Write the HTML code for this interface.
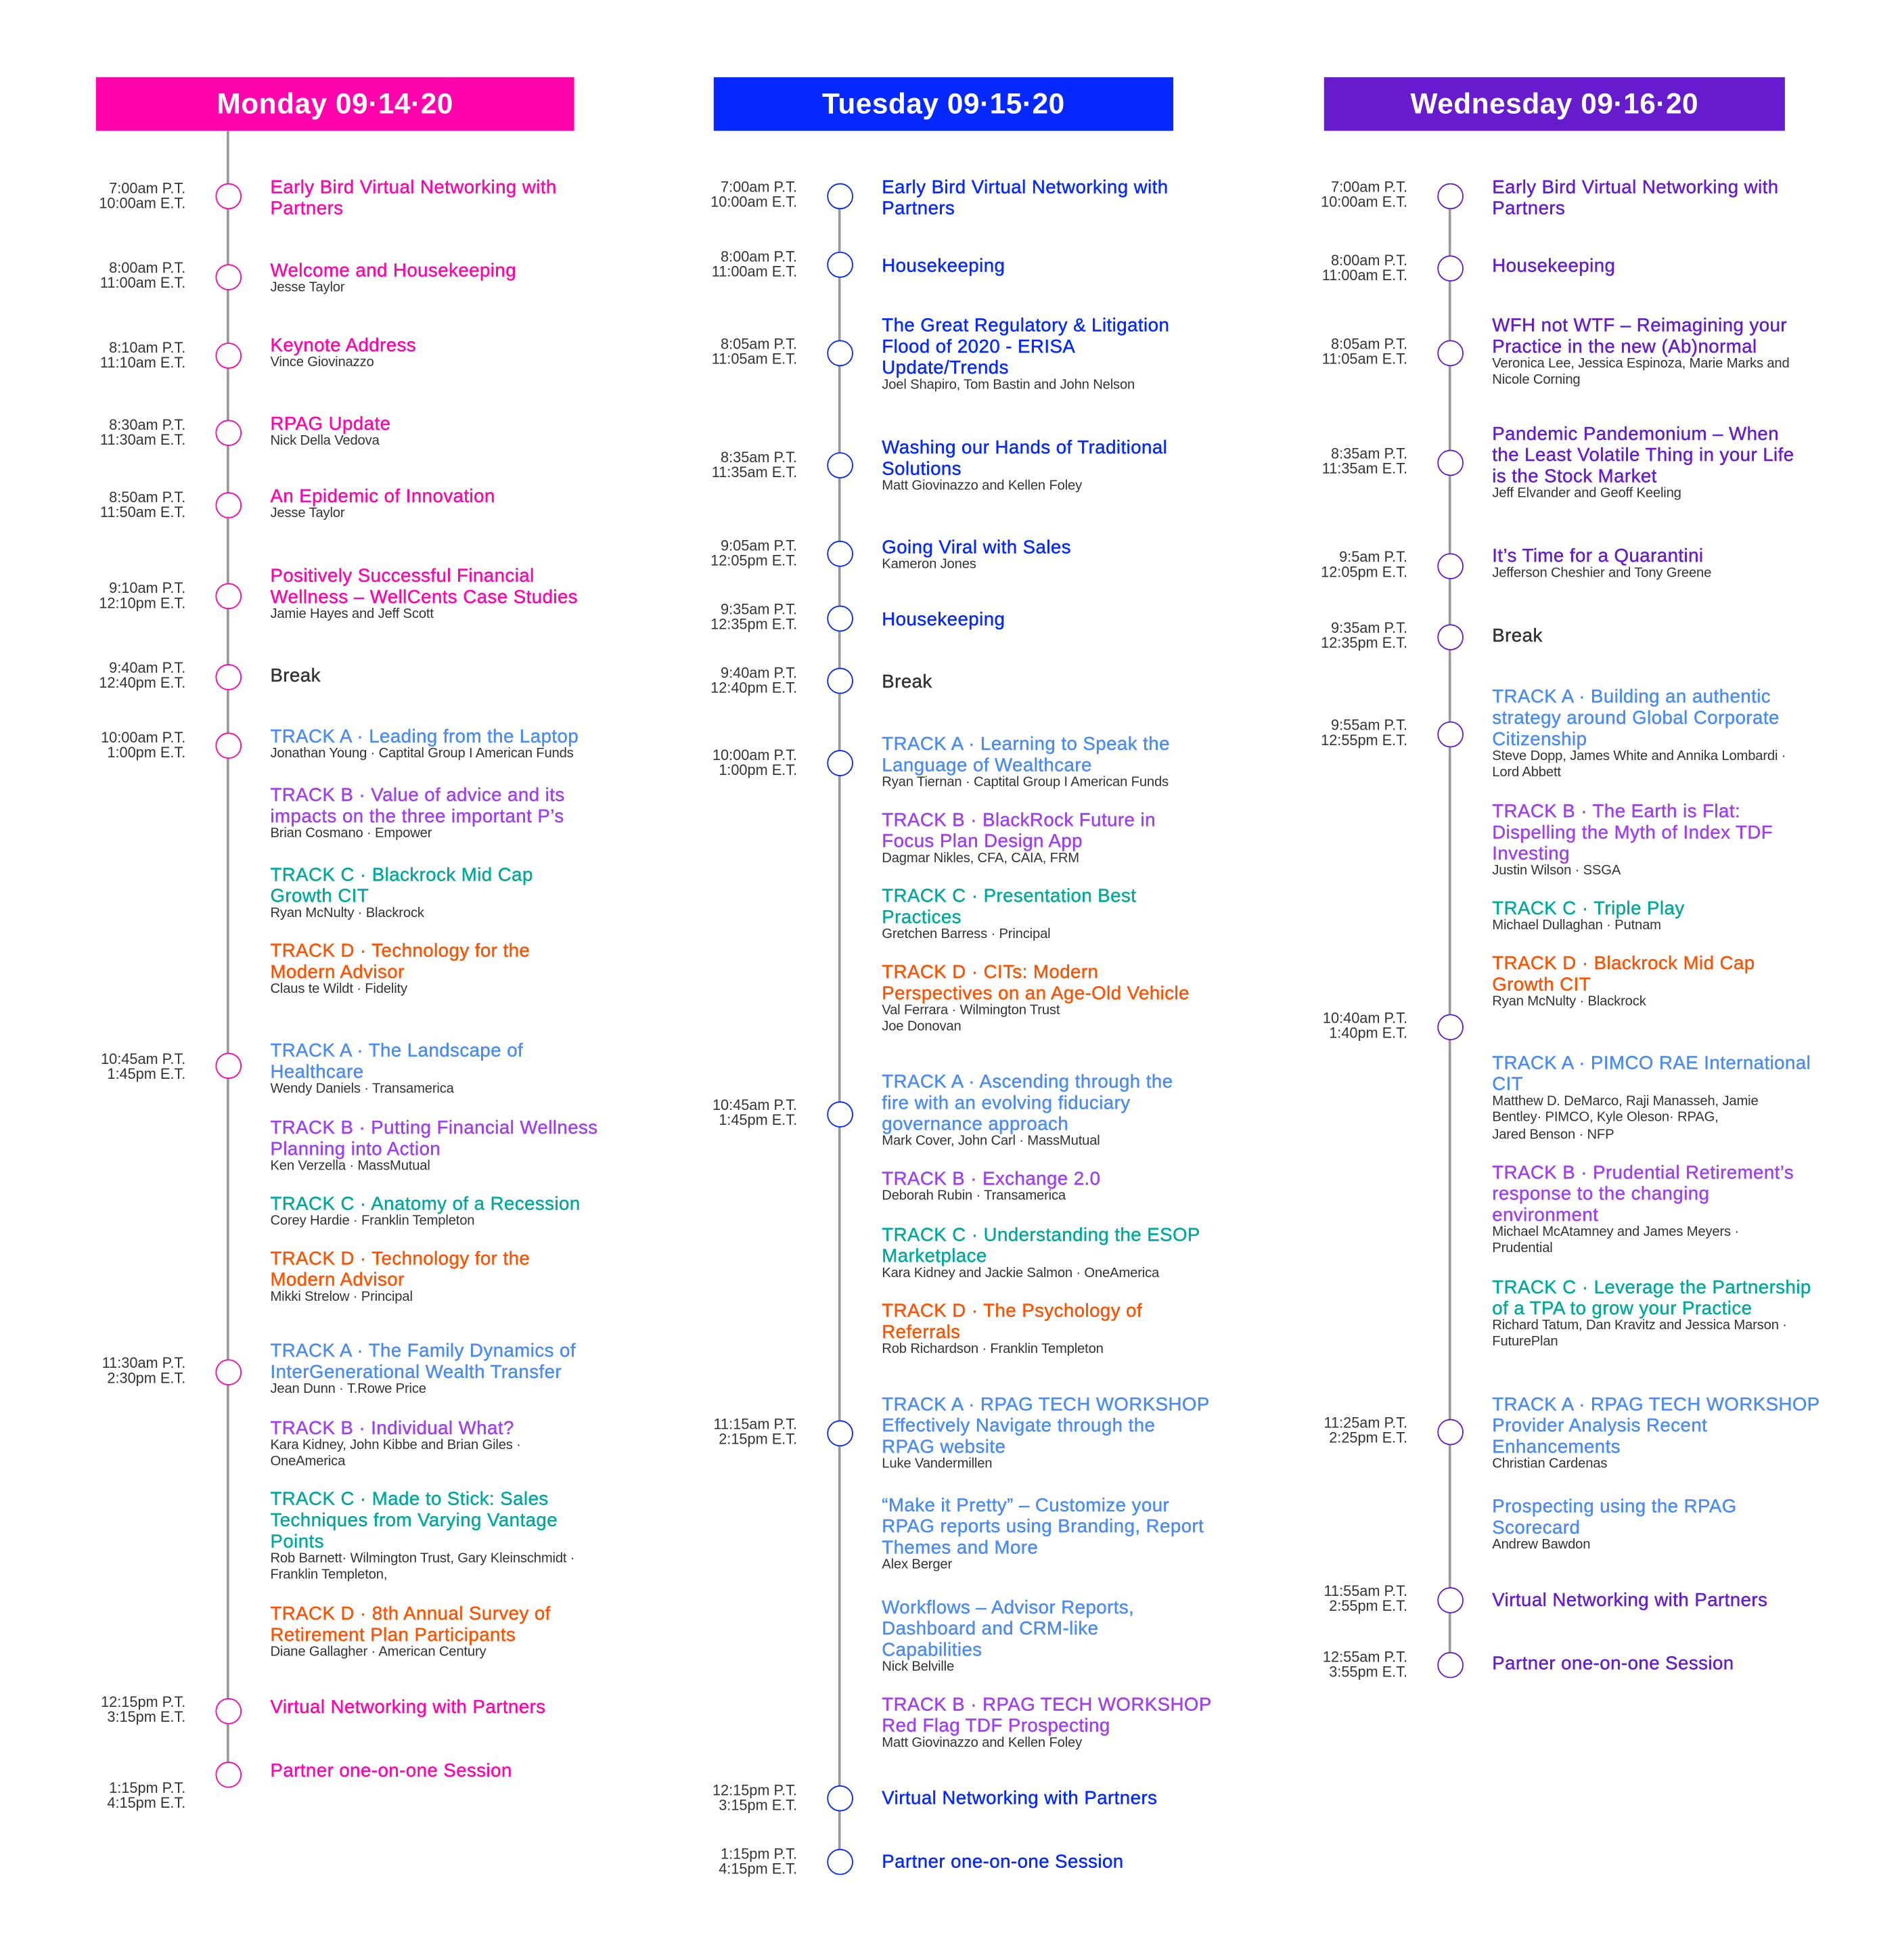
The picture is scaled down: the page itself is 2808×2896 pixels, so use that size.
<!DOCTYPE html>
<html><head><meta charset="utf-8"><style>
html,body{margin:0;padding:0;background:#fff;}
body{width:2808px;height:2887px;overflow:hidden;position:relative;}
#stage{position:absolute;left:0;top:0;width:1530px;height:1573px;transform:scale(1.8408);transform-origin:0 0;font-family:"Liberation Sans",sans-serif;}
.hdr{position:absolute;top:62px;height:43px;color:#fff;font-weight:bold;font-size:23px;letter-spacing:0.3px;text-align:center;line-height:43px;}
.line{position:absolute;width:1.5px;background:#999;}
.circ{position:absolute;width:21px;height:21px;border-radius:50%;border:1.6px solid;background:#fff;box-sizing:border-box;}
.time{position:absolute;font-size:11.8px;line-height:12.5px;color:#333;text-align:right;width:110px;}
.ttl{position:absolute;font-size:15px;line-height:17px;letter-spacing:0.25px;white-space:nowrap;-webkit-text-stroke:0.25px currentColor;}
.sub{position:absolute;font-size:11px;line-height:13.8px;color:#333;white-space:nowrap;letter-spacing:-0.1px;}
</style></head><body>
<div id="stage"></div>
<script>
const dayNames=["Monday 09·14·20","Tuesday 09·15·20","Wednesday 09·16·20"];
const dayColors=["#ff04ad","#0428ff","#661cce"];
const hdrX=[[77,461],[573,942],[1063,1433]];
const axisX=[183,674,1164];
const lineTop=[105,157,157];
const trackCol={A:"#4b8cf3",B:"#a03ff0",C:"#00a89d",D:"#ff5200",K:"#333"};
// events: [circleY, timeY, pt, et, blocks]; block: [color key, titleY, title lines, sub lines]
const monday=[
[157,151,"7:00am P.T.","10:00am E.T.",[["M",150,["Early Bird Virtual Networking with","Partners"],[]]]],
[222,215,"8:00am P.T.","11:00am E.T.",[["M",217,["Welcome and Housekeeping"],["Jesse Taylor"]]]],
[285,279,"8:10am P.T.","11:10am E.T.",[["M",277,["Keynote Address"],["Vince Giovinazzo"]]]],
[347,341,"8:30am P.T.","11:30am E.T.",[["M",340,["RPAG Update"],["Nick Della Vedova"]]]],
[405,399,"8:50am P.T.","11:50am E.T.",[["M",398,["An Epidemic of Innovation"],["Jesse Taylor"]]]],
[478,472,"9:10am P.T.","12:10pm E.T.",[["M",462,["Positively Successful Financial","Wellness – WellCents Case Studies"],["Jamie Hayes and Jeff Scott"]]]],
[543,536,"9:40am P.T.","12:40pm E.T.",[["K",542,["Break"],[]]]],
[598,592,"10:00am P.T.","1:00pm E.T.",[["A",591,["TRACK A · Leading from the Laptop"],["Jonathan Young · Captital Group I American Funds"]],["B",638,["TRACK B · Value of advice and its","impacts on the three important P’s"],["Brian Cosmano · Empower"]],["C",702,["TRACK C · Blackrock Mid Cap","Growth CIT"],["Ryan McNulty · Blackrock"]],["D",763,["TRACK D · Technology for the","Modern Advisor"],["Claus te Wildt · Fidelity"]]]],
[855,850,"10:45am P.T.","1:45pm E.T.",[["A",843,["TRACK A · The Landscape of","Healthcare"],["Wendy Daniels · Transamerica"]],["B",905,["TRACK B · Putting Financial Wellness","Planning into Action"],["Ken Verzella · MassMutual"]],["C",966,["TRACK C · Anatomy of a Recession"],["Corey Hardie · Franklin Templeton"]],["D",1010,["TRACK D · Technology for the","Modern Advisor"],["Mikki Strelow · Principal"]]]],
[1101,1094,"11:30am P.T.","2:30pm E.T.",[["A",1084,["TRACK A · The Family Dynamics of","InterGenerational Wealth Transfer"],["Jean Dunn · T.Rowe Price"]],["B",1146,["TRACK B · Individual What?"],["Kara Kidney, John Kibbe and Brian Giles  ·","OneAmerica"]],["C",1203,["TRACK C · Made to Stick: Sales","Techniques from Varying Vantage","Points"],["Rob Barnett· Wilmington Trust, Gary Kleinschmidt ·","Franklin Templeton,"]],["D",1295,["TRACK D · 8th Annual Survey of","Retirement Plan Participants"],["Diane Gallagher · American Century"]]]],
[1373,1366,"12:15pm P.T.","3:15pm E.T.",[["M",1370,["Virtual Networking with Partners"],[]]]],
[1424,1435,"1:15pm P.T.","4:15pm E.T.",[["M",1421,["Partner one-on-one Session"],[]]]]
];
const tuesday=[
[157,150,"7:00am P.T.","10:00am E.T.",[["M",150,["Early Bird Virtual Networking with","Partners"],[]]]],
[212,206,"8:00am P.T.","11:00am E.T.",[["M",213,["Housekeeping"],[]]]],
[283,276,"8:05am P.T.","11:05am E.T.",[["M",261,["The Great Regulatory & Litigation","Flood of 2020 - ERISA","Update/Trends"],["Joel Shapiro, Tom Bastin and John Nelson"]]]],
[373,367,"8:35am P.T.","11:35am E.T.",[["M",359,["Washing our Hands of Traditional","Solutions"],["Matt Giovinazzo and Kellen Foley"]]]],
[444,438,"9:05am P.T.","12:05pm E.T.",[["M",439,["Going Viral with Sales"],["Kameron Jones"]]]],
[496,489,"9:35am P.T.","12:35pm E.T.",[["M",497,["Housekeeping"],[]]]],
[546,540,"9:40am P.T.","12:40pm E.T.",[["K",547,["Break"],[]]]],
[612,606,"10:00am P.T.","1:00pm E.T.",[["A",597,["TRACK A · Learning to Speak the","Language of Wealthcare"],["Ryan Tiernan · Captital Group I American Funds"]],["B",658,["TRACK B · BlackRock Future in","Focus Plan Design App"],["Dagmar Nikles, CFA, CAIA, FRM"]],["C",719,["TRACK C · Presentation Best","Practices"],["Gretchen Barress · Principal"]],["D",780,["TRACK D · CITs: Modern","Perspectives on an Age-Old Vehicle"],["Val Ferrara · Wilmington Trust","Joe Donovan"]]]],
[894,887,"10:45am P.T.","1:45pm E.T.",[["A",868,["TRACK A · Ascending through the","fire with an evolving fiduciary","governance approach"],["Mark Cover, John Carl · MassMutual"]],["B",946,["TRACK B · Exchange 2.0"],["Deborah Rubin · Transamerica"]],["C",991,["TRACK C · Understanding the ESOP","Marketplace"],["Kara Kidney and Jackie Salmon · OneAmerica"]],["D",1052,["TRACK D · The Psychology of","Referrals"],["Rob Richardson · Franklin Templeton"]]]],
[1150,1143,"11:15am P.T.","2:15pm E.T.",[["A",1127,["TRACK A · RPAG TECH WORKSHOP","Effectively Navigate through the","RPAG website"],["Luke Vandermillen"]],["A",1208,["“Make it Pretty” – Customize your","RPAG reports using Branding, Report","Themes and More"],["Alex Berger"]],["A",1290,["Workflows – Advisor Reports,","Dashboard and CRM-like","Capabilities"],["Nick Belville"]],["B",1368,["TRACK B · RPAG TECH WORKSHOP","Red Flag TDF Prospecting"],["Matt Giovinazzo and Kellen Foley"]]]],
[1443,1437,"12:15pm P.T.","3:15pm E.T.",[["M",1443,["Virtual Networking with Partners"],[]]]],
[1494,1488,"1:15pm P.T.","4:15pm E.T.",[["M",1494,["Partner one-on-one Session"],[]]]]
];
const wednesday=[
[157,150,"7:00am P.T.","10:00am E.T.",[["M",150,["Early Bird Virtual Networking with","Partners"],[]]]],
[215,209,"8:00am P.T.","11:00am E.T.",[["M",213,["Housekeeping"],[]]]],
[283,276,"8:05am P.T.","11:05am E.T.",[["M",261,["WFH not WTF – Reimagining your","Practice in the new (Ab)normal"],["Veronica Lee, Jessica Espinoza, Marie Marks and","Nicole Corning"]]]],
[371,364,"8:35am P.T.","11:35am E.T.",[["M",348,["Pandemic Pandemonium – When","the Least Volatile Thing in your Life","is the Stock Market"],["Jeff Elvander and Geoff Keeling"]]]],
[454,447,"9:5am P.T.","12:05pm E.T.",[["M",446,["It’s Time for a Quarantini"],["Jefferson Cheshier and Tony Greene"]]]],
[511,504,"9:35am P.T.","12:35pm E.T.",[["K",510,["Break"],[]]]],
[589,582,"9:55am P.T.","12:55pm E.T.",[["A",559,["TRACK A ·  Building an authentic","strategy around Global Corporate","Citizenship"],["Steve Dopp, James White and Annika Lombardi ·","Lord Abbett"]],["B",651,["TRACK B · The Earth is Flat:","Dispelling the Myth of Index TDF","Investing"],["Justin Wilson · SSGA"]],["C",729,["TRACK C · Triple Play"],["Michael Dullaghan · Putnam"]],["D",773,["TRACK D · Blackrock Mid Cap","Growth CIT"],["Ryan McNulty · Blackrock"]]]],
[824,817,"10:40am P.T.","1:40pm E.T.",[["A",853,["TRACK A · PIMCO RAE International","CIT"],["Matthew D. DeMarco, Raji Manasseh, Jamie","Bentley· PIMCO, Kyle Oleson· RPAG,","Jared Benson · NFP"]],["B",941,["TRACK B · Prudential Retirement’s","response to the changing","environment"],["Michael McAtamney and James Meyers ·","Prudential"]],["C",1033,["TRACK C · Leverage the Partnership","of a TPA to grow your Practice"],["Richard Tatum, Dan Kravitz and Jessica Marson ·","FuturePlan"]]]],
[1149,1142,"11:25am P.T.","2:25pm E.T.",[["A",1127,["TRACK A · RPAG TECH WORKSHOP","Provider Analysis Recent","Enhancements"],["Christian Cardenas"]],["A",1209,["Prospecting using the RPAG","Scorecard"],["Andrew Bawdon"]]]],
[1284,1277,"11:55am P.T.","2:55pm E.T.",[["M",1284,["Virtual Networking with Partners"],[]]]],
[1336,1330,"12:55am P.T.","3:55pm E.T.",[["M",1335,["Partner one-on-one Session"],[]]]]
];
const days=[monday,tuesday,wednesday];
const stage=document.getElementById('stage');
days.forEach((evs,d)=>{
  const col=dayColors[d], ax=axisX[d];
  const h=document.createElement('div');
  h.className='hdr';
  
  
  h.style.left=hdrX[d][0]+'px';h.style.width=(hdrX[d][1]-hdrX[d][0])+'px';h.style.background=col;
  h.textContent=dayNames[d];
  stage.appendChild(h);
  const ln=document.createElement('div');
  ln.className='line';
  
  
  const lastY=evs[evs.length-1][0];
  ln.style.left=(ax-0.75)+'px';ln.style.top=lineTop[d]+'px';ln.style.height=(lastY-lineTop[d])+'px';
  stage.appendChild(ln);
  evs.forEach(ev=>{
    const c=document.createElement('div');
    c.className='circ';
    
    
    c.style.left=(ax-10.5)+'px';c.style.top=(ev[0]-10.5)+'px';c.style.borderColor=col;
    stage.appendChild(c);
    const t=document.createElement('div');
    t.className='time';
    
    
    t.style.left=(ax-34-110)+'px';t.style.top=(ev[1]-6.5)+'px';
    t.innerHTML=ev[2]+'<br>'+ev[3];
    stage.appendChild(t);
    ev[4].forEach(b=>{
      const tt=document.createElement('div');
      tt.className='ttl';
      
      
      tt.style.left=(ax+34)+'px';tt.style.top=(b[1]-8.5)+'px';
      tt.style.color=b[0]==='M'?col:trackCol[b[0]];
      tt.innerHTML=b[2].join('<br>');
      stage.appendChild(tt);
      if(b[3].length){
        const s=document.createElement('div');
        s.className='sub';
        
        
        s.style.left=(ax+34)+'px';s.style.top=(b[1]+b[2].length*17-9.5)+'px';
        s.innerHTML=b[3].join('<br>');
        stage.appendChild(s);
      }
    });
  });
});
</script>
</body></html>
